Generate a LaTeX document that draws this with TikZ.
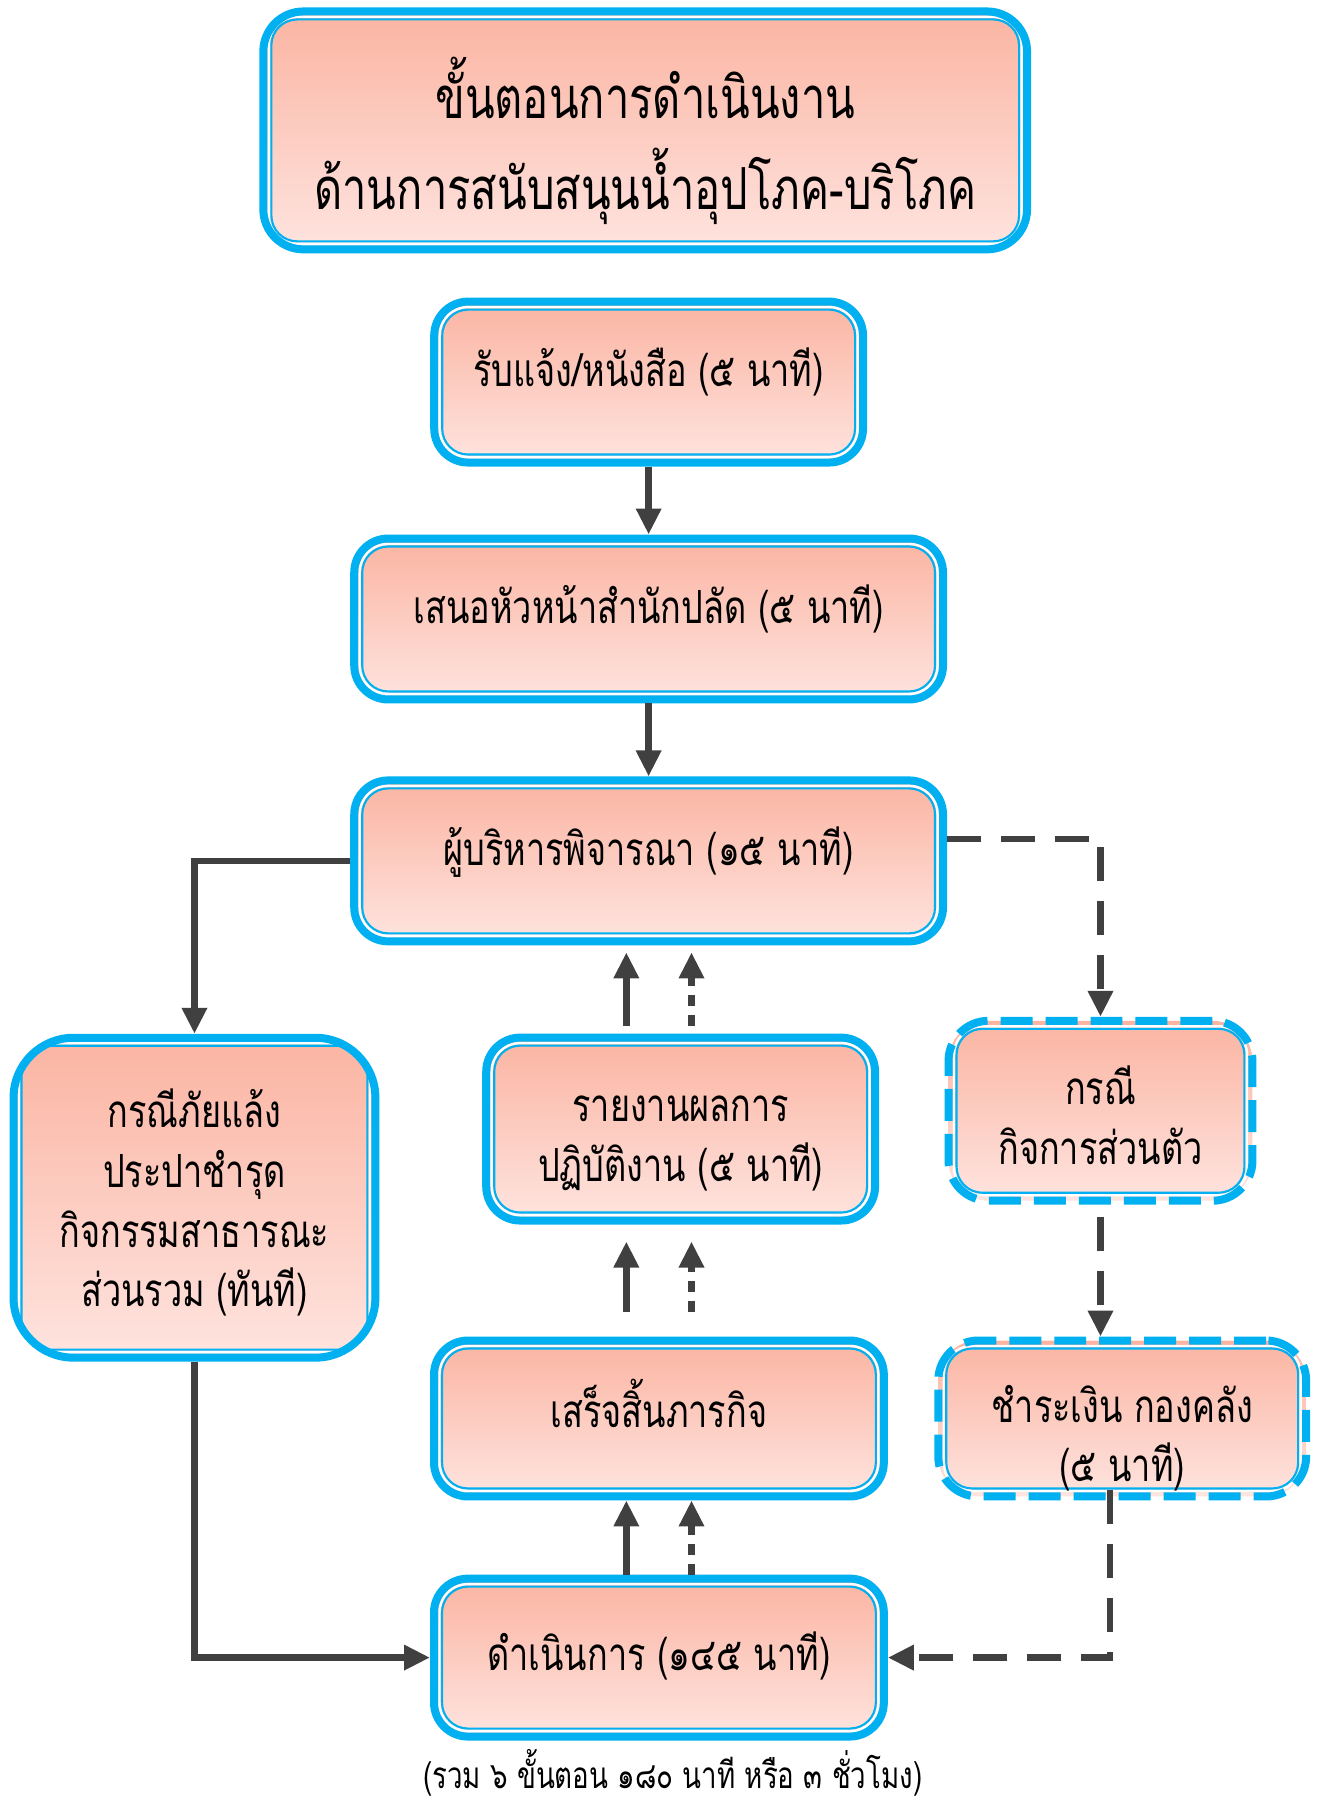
\documentclass[tikz,border=0pt]{standalone}
\usepackage{fontspec}
\setmainfont{Loma}[Script=Thai, FakeStretch=0.75]
\usetikzlibrary{positioning, arrows.meta, calc}

\definecolor{skyline}{RGB}{0,176,240}
\definecolor{salmontop}{RGB}{251,180,162}
\definecolor{salmonbot}{RGB}{254,228,223}
\definecolor{arrowgray}{RGB}{64,64,64}

\tikzset{
x=0.01144cm, y=-0.01144cm, % one unit is one pixel of the sketch
node distance=0.75cm,
stepbox/.style={rounded corners=0.34cm, top color=salmontop, bottom color=salmonbot,
  draw=skyline, line width=0.8mm, align=center, font=\fontsize{13}{17}\selectfont,
  path picture={
    \draw[white, line width=0.7pt, rounded corners=0.28cm, solid]
      ([shift={(0.55mm,0.55mm)}]path picture bounding box.south west) rectangle
      ([shift={(-0.55mm,-0.55mm)}]path picture bounding box.north east);
    \draw[skyline, line width=0.6pt, rounded corners=0.26cm, solid]
      ([shift={(0.8mm,0.8mm)}]path picture bounding box.south west) rectangle
      ([shift={(-0.8mm,-0.8mm)}]path picture bounding box.north east);
  }},
lift/.style={text depth=0.3cm}, % single lines sit above the middle
lines/.style={text depth=0.1cm, text height=#1, inner ysep=0pt}, % several lines, placed by hand
dashbox/.style={stepbox, dash pattern=on 3.2mm off 1.3mm},
flow/.style={-{Triangle[length=2.6mm,width=2.4mm]}, draw=arrowgray, line width=0.65mm},
dashflow/.style={flow, dash pattern=on 3.4mm off 2mm},
dotflow/.style={flow, dash pattern=on 1.1mm off 0.9mm},
}

\begin{document}
\begin{tikzpicture}
\useasboundingbox (0,0) rectangle (1160,1577);

\node[stepbox, lines=1.68cm, minimum width=7.64cm, minimum height=2.38cm, rounded corners=0.4cm,
  font=\fontsize{16.5}{26}\selectfont] (title) at (564,114)
  {ขั้นตอนการดำเนินงาน\\ด้านการสนับสนุนน้ำอุปโภค-บริโภค};

\node[stepbox, lift, minimum width=4.29cm, minimum height=1.61cm] (notice) at (567,334)
  {รับแจ้ง/หนังสือ (๕ นาที)};
\node[stepbox, lift, minimum width=5.89cm, minimum height=1.61cm, below=0.68cm of notice] (propose)
  {เสนอหัวหน้าสำนักปลัด (๕ นาที)};
\node[stepbox, lift, minimum width=5.89cm, minimum height=1.61cm, below=0.73cm of propose] (approve)
  {ผู้บริหารพิจารณา (๑๕ นาที)};

\node[stepbox, lines=2.285cm, minimum width=3.62cm, minimum height=3.2cm, rounded corners=0.6cm] (drought) at (170,1047)
  {กรณีภัยแล้ง\\ประปาชำรุด\\กิจกรรมสาธารณะ\\ส่วนรวม (ทันที)};
\node[stepbox, lines=1.15cm, minimum width=3.89cm, minimum height=1.83cm] (report) at (595,987)
  {รายงานผลการ\\ปฏิบัติงาน (๕ นาที)};
\node[dashbox, lines=1.175cm, minimum width=3.04cm, minimum height=1.8cm, rounded corners=0.4cm] (private) at (962,971)
  {กรณี\\กิจการส่วนตัว};

\node[stepbox, lift, minimum width=4.5cm, minimum height=1.56cm] (finish) at (576,1240)
  {เสร็จสิ้นภารกิจ};
\node[dashbox, lines=1.37cm, minimum width=3.68cm, minimum height=1.56cm, rounded corners=0.4cm] (pay) at (981,1240)
  {ชำระเงิน กองคลัง\\(๕ นาที)};
\node[stepbox, text depth=0.12cm, minimum width=4.5cm, minimum height=1.58cm] (operate) at (576,1449)
  {ดำเนินการ (๑๔๕ นาที)};

\node[font=\fontsize{10.5}{14}\selectfont] (total) at (588,1550)
  {(รวม ๖ ขั้นตอน ๑๘๐ นาที หรือ ๓ ชั่วโมง)};

% main line
\draw[flow] (notice) -- (propose);
\draw[flow] (propose) -- (approve);
\draw[flow] (approve.west) -| (drought.north);
\draw[flow] (drought.south) |- (operate.west);

% private case
\draw[dashflow] ([yshift=0.22cm]approve.east) -| (private.north);
\draw[dashflow, shorten <=0.12cm] (private.south) -- (private.south |- pay.north);
\draw[dashflow, shorten <=-0.1cm] ([xshift=-0.12cm]pay.south) |- (operate.east);

% reports going up
\draw[flow] ([xshift=-0.326cm]operate.north) -- ([xshift=-0.326cm]operate.north |- finish.south);
\draw[dotflow] ([xshift=0.326cm]operate.north) -- ([xshift=0.326cm]operate.north |- finish.south);
\draw[flow, shorten <=0.25cm, shorten >=0.17cm] ([xshift=-0.326cm]finish.north) -- ([xshift=-0.326cm]finish.north |- report.south);
\draw[dotflow, shorten <=0.25cm, shorten >=0.17cm] ([xshift=0.326cm]finish.north) -- ([xshift=0.326cm]finish.north |- report.south);
\draw[flow, shorten <=0.08cm, shorten >=0.07cm] ([xshift=-0.326cm]finish.north |- report.north) -- ([xshift=-0.326cm]finish.north |- approve.south);
\draw[dotflow, shorten <=0.08cm, shorten >=0.07cm] ([xshift=0.326cm]finish.north |- report.north) -- ([xshift=0.326cm]finish.north |- approve.south);
\end{tikzpicture}
\end{document}
